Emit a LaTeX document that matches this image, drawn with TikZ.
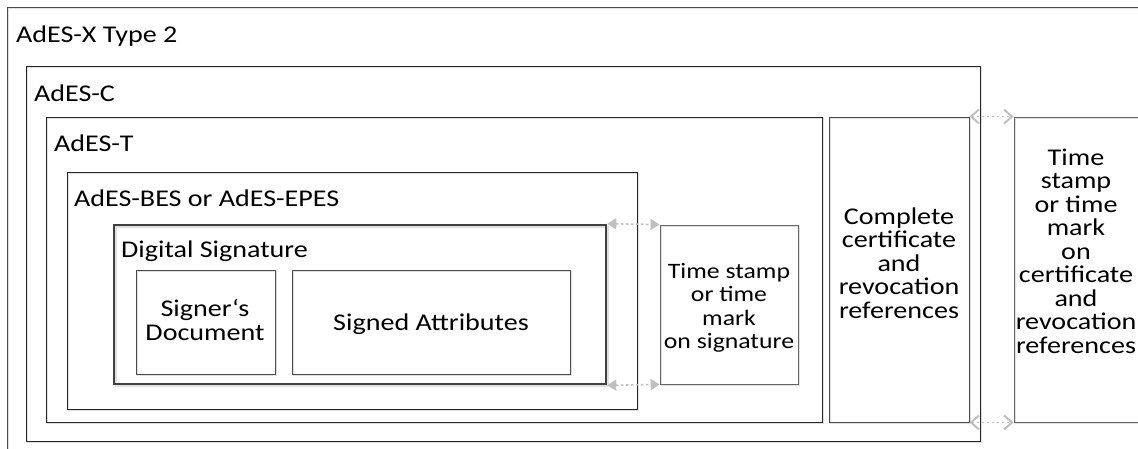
\documentclass[tikz,border=0pt]{standalone}
\usepackage{fontspec}
\setmainfont{Carlito}[FakeStretch=1.17]
\usetikzlibrary{fit,arrows.meta}
\tikzset{
  box/.style={draw=#1, line width=0.9pt, inner sep=0pt,
    preaction={draw=black!12, line width=1.2pt, transform canvas={shift={(1.6pt,-1.6pt)}}}},
  box/.default={black!85},
  sigbox/.style={draw=black!75, line width=2.6pt, inner sep=0pt,
    preaction={draw=black!12, line width=2pt, transform canvas={shift={(2pt,-2pt)}}}},
  lbl/.style={anchor=west, inner sep=0pt, font=\fontsize{24}{23.5}\selectfont},
  txt/.style={align=center, inner sep=0pt, font=\fontsize{24}{23.5}\selectfont},
  smalltxt/.style={align=center, inner sep=0pt, font=\fontsize{22}{23.5}\selectfont},
  link/.style={draw=black!25, line width=1.6pt, dash pattern=on 2.5pt off 2.5pt,
    {Triangle[length=9pt,width=11pt,fill=black!25]}-{Triangle[length=9pt,width=11pt,fill=black!25]}},
  linkopen/.style={draw=black!25, line width=1.6pt, dash pattern=on 2.5pt off 2.5pt,
    {Straight Barb[length=8pt,width=14pt,line width=2pt]}-{Straight Barb[length=8pt,width=14pt,line width=2pt]}}
}
\begin{document}
\begin{tikzpicture}[x=1pt,y=-1pt]
\useasboundingbox (0,0) rectangle (1138,448);
\clip (0,0) rectangle (1138,448);
\fill[white] (0,0) rectangle (1138,448);

% nested containers
\node[box=black!70, fit={(7,7) (1160,470)}] (xt2) {};
\node[box, fit={(26,66) (980,441)}] (adc) {};
\node[box, fit={(46,117) (822,422)}] (adt) {};
\node[box, fit={(67,172) (637,409)}] (bes) {};
\node[sigbox, fit={(114,225) (606,384)}] (ds) {};
\node[box=black!70, fit={(136,270) (275,374)}] (sd) {};
\node[box=black!70, fit={(292,270) (570,374)}] (sa) {};

% side elements
\node[box=black!60, fit={(660,225) (798,384)}] (tss) {};
\node[box=black!70, fit={(829,117) (969,422)}] (ccr) {};
\node[box=black!60, fit={(1014,117) (1160,422)}] (tsc) {};

% titles
\node[lbl] (t1) at (16,36) {AdES-X Type 2};
\node[lbl] (t2) at (34,93) {AdES-C};
\node[lbl] (t3) at (54,143) {AdES-T};
\node[lbl] (t4) at (74,198) {AdES-BES or AdES-EPES};
\node[lbl] (t5) at (121,251) {Digital Signature};

\node[txt] (t6) at (205,320) {Signer‘s\\Document};
\node[txt] (t7) at (431,324) {Signed Attributes};
\node[smalltxt] (t8) at (729,308) {Time stamp\\or time\\mark\\on signature};
\node[txt] (t9) at (899,263) {Complete\\certificate\\and\\revocation\\references};
\node[txt] (t10) at (1076,251) {Time\\stamp\\or time\\mark\\on\\certificate\\and\\revocation\\references};

% connectors
\draw[link] (ds.north east) -- (tss.north west);
\draw[link] (ds.south east) -- (tss.south west);
\draw[linkopen] (ccr.north east) -- (tsc.north west);
\draw[linkopen] (ccr.south east) -- (tsc.south west);
\end{tikzpicture}
\end{document}
